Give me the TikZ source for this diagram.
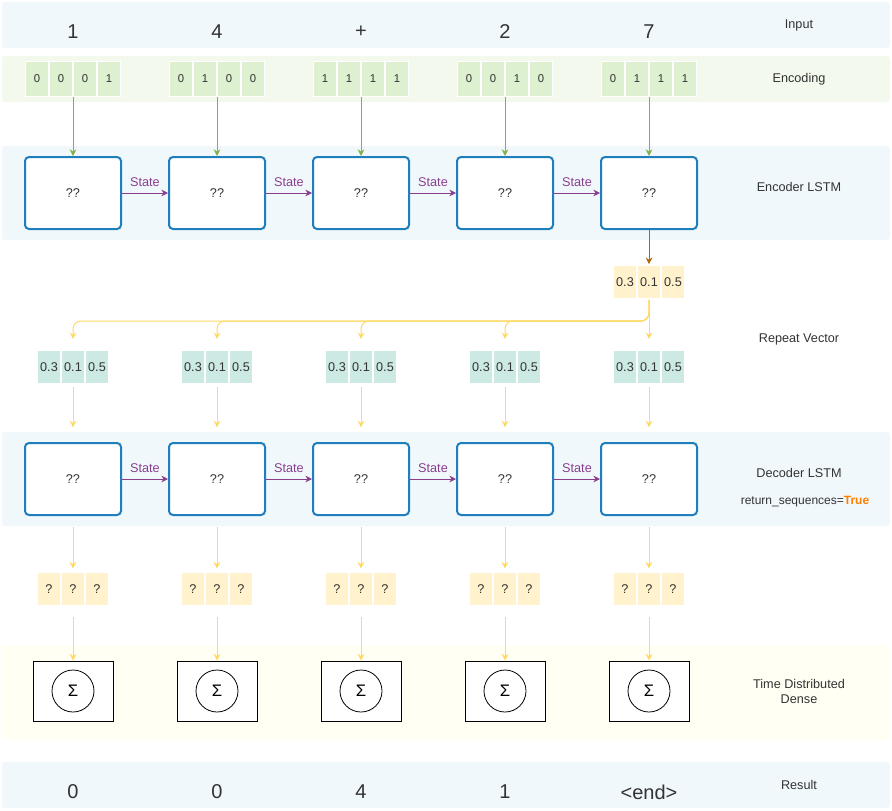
\documentclass[tikz,border=0pt]{standalone}
\usepackage{fontspec}
\setmainfont{Liberation Sans}
\usetikzlibrary{positioning,arrows.meta}
\definecolor{bandblue}{HTML}{F1F8FC}
\definecolor{bandgreen}{HTML}{F3F9EC}
\definecolor{bandyellow}{HTML}{FFFFF4}
\definecolor{bitgreen}{HTML}{DDF0CF}
\definecolor{cellyellow}{HTML}{FFF2CC}
\definecolor{cellteal}{HTML}{CDE9E3}
\definecolor{lstmblue}{HTML}{1F7EBD}
\definecolor{statepurple}{HTML}{8A3E8E}
\definecolor{feedgreen}{HTML}{7CB342}
\definecolor{feedbrown}{HTML}{B46504}
\definecolor{feedyellow}{HTML}{FFD966}
\definecolor{txtgray}{HTML}{333333}
\definecolor{trueorange}{HTML}{FF8000}

\begin{document}
\begin{tikzpicture}[x=0.75pt,y=-0.75pt,
    every node/.style={text=txtgray,font=\fontsize{9.5}{11.25}\selectfont},
    band/.style={rounded corners=2pt},
    bit/.style={fill=bitgreen,draw=white,line width=1.2pt,minimum width=17.25pt,minimum height=26.25pt,inner sep=0pt,font=\fontsize{8.5}{10}\selectfont},
    cell/.style={draw=white,line width=1.2pt,minimum width=17.25pt,minimum height=25.5pt,inner sep=0pt},
    lstm/.style={draw=lstmblue,fill=white,line width=1.5pt,rounded corners=3pt,minimum width=72pt,minimum height=54pt},
    dense/.style={draw=black,fill=white,line width=0.75pt,minimum width=60pt,minimum height=45pt},
    sum/.style={circle,draw=black,line width=0.6pt,minimum size=31.5pt,inner sep=0pt,text=black,font=\fontsize{12.5}{14}\selectfont},
    big/.style={font=\fontsize{15}{18}\selectfont},
    feed/.style={-{Stealth[length=5pt,width=5pt]},line width=0.75pt},
  ]
  \useasboundingbox (0,0) rectangle (892,810);
  \fill[bandblue,band] (2,2) rectangle (890,48);
  \fill[bandgreen,band] (2,56) rectangle (890,102);
  \fill[bandblue,band] (2,146) rectangle (890,240);
  \fill[bandblue,band] (2,432) rectangle (890,526);
  \fill[bandyellow,band] (2,645) rectangle (890,740);
  \fill[bandblue,band] (2,762) rectangle (890,808);

  \node (lblInput) at (799,25) {Input};
  \node (lblEncoding) at (799,79) {Encoding};
  \node (lblEncoder) at (799,187) {Encoder LSTM};
  \node (lblRepeat) at (799,339) {Repeat Vector};
  \node (lblDecoder) at (799,473) {Decoder LSTM};
  \node[font=\fontsize{9}{11}\selectfont] (lblReturn) at (805,502) {return\_sequences=\textcolor{trueorange}{\textbf{True}}};
  \node[align=center] (lblDense) at (799,691) {Time Distributed\\Dense};
  \node (lblResult) at (799,785) {Result};

  \foreach \i/\x/\ch/\ba/\bb/\bc/\bd/\res in {1/73/1/0/0/0/1/0,2/217/4/0/1/0/0/0,3/361/+/1/1/1/1/4,4/505/2/0/0/1/0/1,5/649/7/0/1/1/1/{<end>}} {
    \node[big] (in\i) at (\x,32) {\ch};
    \node[bit] (bit\i-1) at (\x-36,79) {\ba};
    \node[bit] (bit\i-2) at (\x-12,79) {\bb};
    \node[bit] (bit\i-3) at (\x+12,79) {\bc};
    \node[bit] (bit\i-4) at (\x+36,79) {\bd};
    \node[lstm] (enc\i) at (\x,193) {??};
    \node[cell,fill=cellteal] (rep\i-1) at (\x-24,367) {0.3};
    \node[cell,fill=cellteal] (rep\i-2) at (\x,367) {0.1};
    \node[cell,fill=cellteal] (rep\i-3) at (\x+24,367) {0.5};
    \node[lstm] (dec\i) at (\x,479) {??};
    \node[cell,fill=cellyellow] (out\i-1) at (\x-24,589) {?};
    \node[cell,fill=cellyellow] (out\i-2) at (\x,589) {?};
    \node[cell,fill=cellyellow] (out\i-3) at (\x+24,589) {?};
    \node[dense] (dense\i) at (\x,691) {};
    \node[sum] (sum\i) at (dense\i) {Σ};
    \node[big] (res\i) at (\x,792) {\res};
    \draw[feed,feedgreen] (enc\i.north |- bit\i-2.south) -- (enc\i.north);
    \draw[feed,feedyellow,shorten <=1.5pt,shorten >=11pt] (rep\i-2) -- (dec\i);
    \draw[feed,feedyellow,shorten <=8pt,shorten >=2pt] (dec\i) -- (out\i-2);
    \draw[feed,feedyellow,shorten <=8pt] (out\i-2) -- (dense\i);
  }

  \node[cell,fill=cellyellow] (ctx-1) at (625,282) {0.3};
  \node[cell,fill=cellyellow] (ctx-2) at (649,282) {0.1};
  \node[cell,fill=cellyellow] (ctx-3) at (673,282) {0.5};
  \draw[feed,feedbrown] (enc5) -- (ctx-2);

  \coordinate (fork) at (649,321);
  \foreach \i in {1,...,4}
    \draw[feed,feedyellow,rounded corners=6pt,shorten >=7.5pt] (ctx-2.south) |- (fork -| rep\i-2.north) -- (rep\i-2.north);
  \draw[feed,feedyellow,shorten >=7.5pt] (ctx-2) -- (rep5-2);

  \foreach \i/\j in {1/2,2/3,3/4,4/5} {
    \draw[feed,statepurple] (enc\i) -- node[above=1pt,text=statepurple] {State} (enc\j);
    \draw[feed,statepurple] (dec\i) -- node[above=1pt,text=statepurple] {State} (dec\j);
  }
\end{tikzpicture}
\end{document}
